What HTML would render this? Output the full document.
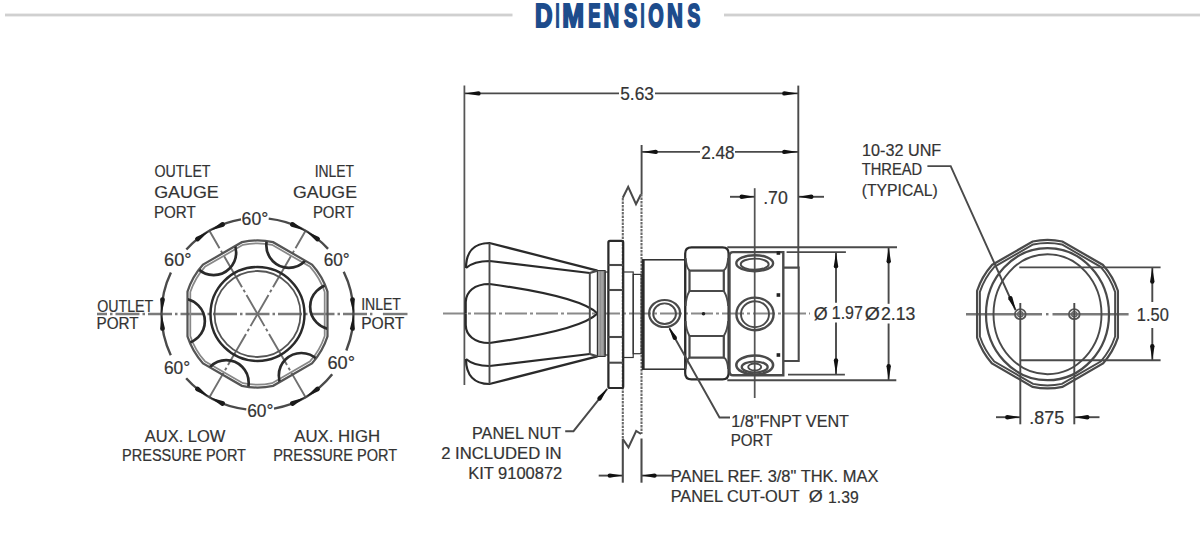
<!DOCTYPE html>
<html><head><meta charset="utf-8"><style>
html,body{margin:0;padding:0;background:#fff;}
svg{display:block;}
text{font-family:"Liberation Sans",sans-serif;}
</style></head><body>
<svg width="1200" height="548" viewBox="0 0 1200 548">
<rect width="1200" height="548" fill="#fff"/>
<g><rect x="5" y="13.6" width="507.5" height="2.8" fill="#d0d0d0"/>
<rect x="724" y="13.6" width="476" height="2.8" fill="#d0d0d0"/>
<text x="535.03" y="27.00" font-size="32.3" fill="#1d4c8c" text-anchor="start" textLength="17.50" lengthAdjust="spacingAndGlyphs" font-weight="bold" stroke="#1d4c8c" stroke-width="2.0">D</text>
<text x="555.56" y="27.00" font-size="32.3" fill="#1d4c8c" text-anchor="start" textLength="4.02" lengthAdjust="spacingAndGlyphs" font-weight="bold" stroke="#1d4c8c" stroke-width="2.0">I</text>
<text x="562.30" y="27.00" font-size="32.3" fill="#1d4c8c" text-anchor="start" textLength="21.78" lengthAdjust="spacingAndGlyphs" font-weight="bold" stroke="#1d4c8c" stroke-width="2.0">M</text>
<text x="588.30" y="27.00" font-size="32.3" fill="#1d4c8c" text-anchor="start" textLength="12.28" lengthAdjust="spacingAndGlyphs" font-weight="bold" stroke="#1d4c8c" stroke-width="2.0">E</text>
<text x="603.48" y="27.00" font-size="32.3" fill="#1d4c8c" text-anchor="start" textLength="15.73" lengthAdjust="spacingAndGlyphs" font-weight="bold" stroke="#1d4c8c" stroke-width="2.0">N</text>
<text x="624.00" y="27.00" font-size="32.3" fill="#1d4c8c" text-anchor="start" textLength="13.23" lengthAdjust="spacingAndGlyphs" font-weight="bold" stroke="#1d4c8c" stroke-width="2.0">S</text>
<text x="640.56" y="27.00" font-size="32.3" fill="#1d4c8c" text-anchor="start" textLength="4.02" lengthAdjust="spacingAndGlyphs" font-weight="bold" stroke="#1d4c8c" stroke-width="2.0">I</text>
<text x="648.21" y="27.00" font-size="32.3" fill="#1d4c8c" text-anchor="start" textLength="15.39" lengthAdjust="spacingAndGlyphs" font-weight="bold" stroke="#1d4c8c" stroke-width="2.0">O</text>
<text x="667.07" y="27.00" font-size="32.3" fill="#1d4c8c" text-anchor="start" textLength="15.91" lengthAdjust="spacingAndGlyphs" font-weight="bold" stroke="#1d4c8c" stroke-width="2.0">N</text>
<text x="687.42" y="27.00" font-size="32.3" fill="#1d4c8c" text-anchor="start" textLength="12.78" lengthAdjust="spacingAndGlyphs" font-weight="bold" stroke="#1d4c8c" stroke-width="2.0">S</text></g>
<g id="ln"><line x1="97.00" y1="314.00" x2="372.40" y2="314.00" stroke="#7a7a7a" stroke-width="2.40" stroke-dasharray="24 3 2.5 3" stroke-dashoffset="14"/>
<line x1="382.90" y1="314.00" x2="407.50" y2="314.00" stroke="#7a7a7a" stroke-width="2.40" />
<line x1="306.00" y1="230.00" x2="209.00" y2="398.00" stroke="#707070" stroke-width="1.92" stroke-dasharray="36 3 3 3" stroke-dashoffset="-75"/>
<line x1="209.00" y1="230.00" x2="306.00" y2="398.00" stroke="#707070" stroke-width="1.92" stroke-dasharray="36 3 3 3" stroke-dashoffset="-75"/>
<path d="M328.05,248.90 A96,96 0 0 0 268.70,218.66" stroke="#4a4a4a" stroke-width="2.40" fill="none" />
<path d="M240.99,219.43 A96,96 0 0 0 186.38,249.51" stroke="#4a4a4a" stroke-width="2.40" fill="none" />
<path d="M170.92,272.52 A96,96 0 0 0 170.78,355.18" stroke="#4a4a4a" stroke-width="2.40" fill="none" />
<path d="M186.16,378.24 A96,96 0 0 0 246.30,409.34" stroke="#4a4a4a" stroke-width="2.40" fill="none" />
<path d="M274.01,408.57 A96,96 0 0 0 332.21,374.28" stroke="#4a4a4a" stroke-width="2.40" fill="none" />
<path d="M346.32,350.43 A96,96 0 0 0 343.71,271.77" stroke="#4a4a4a" stroke-width="2.40" fill="none" />
<path d="M353.50,313.16 L350.09,299.73 A2.40,2.40 0 0 1 354.88,299.37 Z" fill="#1a1a1a" stroke="none"/>
<path d="M353.50,314.84 L354.88,328.63 A2.40,2.40 0 0 1 350.09,328.27 Z" fill="#1a1a1a" stroke="none"/>
<path d="M304.77,230.45 L291.44,226.68 A2.40,2.40 0 0 1 293.52,222.35 Z" fill="#1a1a1a" stroke="none"/>
<path d="M306.22,231.28 L318.86,236.98 A2.40,2.40 0 0 1 316.16,240.95 Z" fill="#1a1a1a" stroke="none"/>
<path d="M208.78,231.28 L198.84,240.95 A2.40,2.40 0 0 1 196.14,236.98 Z" fill="#1a1a1a" stroke="none"/>
<path d="M210.23,230.45 L221.48,222.35 A2.40,2.40 0 0 1 223.56,226.68 Z" fill="#1a1a1a" stroke="none"/>
<path d="M161.50,314.84 L164.91,328.27 A2.40,2.40 0 0 1 160.12,328.63 Z" fill="#1a1a1a" stroke="none"/>
<path d="M161.50,313.16 L160.12,299.37 A2.40,2.40 0 0 1 164.91,299.73 Z" fill="#1a1a1a" stroke="none"/>
<path d="M210.23,397.55 L223.56,401.32 A2.40,2.40 0 0 1 221.48,405.65 Z" fill="#1a1a1a" stroke="none"/>
<path d="M208.78,396.72 L196.14,391.02 A2.40,2.40 0 0 1 198.84,387.05 Z" fill="#1a1a1a" stroke="none"/>
<path d="M306.22,396.72 L316.16,387.05 A2.40,2.40 0 0 1 318.86,391.02 Z" fill="#1a1a1a" stroke="none"/>
<path d="M304.77,397.55 L293.52,405.65 A2.40,2.40 0 0 1 291.44,401.32 Z" fill="#1a1a1a" stroke="none"/>
<path d="M327.50,336.41 L327.50,291.59 A73.50,73.50 0 0 0 311.91,264.58 L273.09,242.17 A73.50,73.50 0 0 0 241.91,242.17 L203.09,264.58 A73.50,73.50 0 0 0 187.50,291.59 L187.50,336.41 A73.50,73.50 0 0 0 203.09,363.42 L241.91,385.83 A73.50,73.50 0 0 0 273.09,385.83 L311.91,363.42 A73.50,73.50 0 0 0 327.50,336.41 Z" stroke="#555555" stroke-width="2.24" fill="none" />
<path d="M324.70,335.97 L324.70,292.03 A70.70,70.70 0 0 0 310.13,266.79 L272.07,244.82 A70.70,70.70 0 0 0 242.93,244.82 L204.87,266.79 A70.70,70.70 0 0 0 190.30,292.03 L190.30,335.97 A70.70,70.70 0 0 0 204.87,361.21 L242.93,383.18 A70.70,70.70 0 0 0 272.07,383.18 L310.13,361.21 A70.70,70.70 0 0 0 324.70,335.97 Z" stroke="#888888" stroke-width="1.76" fill="none" />
<clipPath id="hexclip"><path d="M327.00,336.33 L327.00,291.67 A73.00,73.00 0 0 0 311.59,264.98 L272.91,242.64 A73.00,73.00 0 0 0 242.09,242.64 L203.41,264.98 A73.00,73.00 0 0 0 188.00,291.67 L188.00,336.33 A73.00,73.00 0 0 0 203.41,363.02 L242.09,385.36 A73.00,73.00 0 0 0 272.91,385.36 L311.59,363.02 A73.00,73.00 0 0 0 327.00,336.33 Z"/></clipPath>
<circle cx="332.65" cy="306.76" r="22.50" stroke="#2a2a2a" stroke-width="2.69" fill="none" clip-path="url(#hexclip)"/>
<circle cx="288.81" cy="245.30" r="22.50" stroke="#2a2a2a" stroke-width="2.69" fill="none" clip-path="url(#hexclip)"/>
<circle cx="213.66" cy="252.53" r="22.50" stroke="#2a2a2a" stroke-width="2.69" fill="none" clip-path="url(#hexclip)"/>
<circle cx="182.35" cy="321.24" r="22.50" stroke="#2a2a2a" stroke-width="2.69" fill="none" clip-path="url(#hexclip)"/>
<circle cx="226.19" cy="382.70" r="22.50" stroke="#2a2a2a" stroke-width="2.69" fill="none" clip-path="url(#hexclip)"/>
<circle cx="301.34" cy="375.47" r="22.50" stroke="#2a2a2a" stroke-width="2.69" fill="none" clip-path="url(#hexclip)"/>
<circle cx="257.50" cy="314.00" r="47.00" stroke="#2a2a2a" stroke-width="2.46" fill="none" />
<circle cx="257.50" cy="314.00" r="43.00" stroke="#555555" stroke-width="1.76" fill="none" />
<line x1="443.00" y1="313.50" x2="810.00" y2="313.50" stroke="#8a8a8a" stroke-width="2.08" stroke-dasharray="22 3 3 3"/>
<line x1="464.40" y1="85.60" x2="464.40" y2="385.00" stroke="#555555" stroke-width="1.76" />
<line x1="798.30" y1="85.60" x2="798.30" y2="268.00" stroke="#4a4a4a" stroke-width="1.92" />
<line x1="464.40" y1="93.40" x2="619.00" y2="93.40" stroke="#4a4a4a" stroke-width="1.92" />
<line x1="655.00" y1="93.40" x2="798.30" y2="93.40" stroke="#4a4a4a" stroke-width="1.92" />
<path d="M464.80,93.40 L478.45,91.20 A2.20,2.20 0 0 1 478.45,95.60 Z" fill="#111" stroke="none"/>
<path d="M798.00,93.40 L784.35,95.60 A2.20,2.20 0 0 1 784.35,91.20 Z" fill="#111" stroke="none"/>
<line x1="641.60" y1="145.00" x2="641.60" y2="194.00" stroke="#4a4a4a" stroke-width="1.92" />
<line x1="641.60" y1="151.90" x2="700.00" y2="151.90" stroke="#4a4a4a" stroke-width="1.92" />
<line x1="735.00" y1="151.90" x2="798.30" y2="151.90" stroke="#4a4a4a" stroke-width="1.92" />
<path d="M642.00,151.90 L655.65,149.70 A2.20,2.20 0 0 1 655.65,154.10 Z" fill="#111" stroke="none"/>
<path d="M798.00,151.90 L784.35,154.10 A2.20,2.20 0 0 1 784.35,149.70 Z" fill="#111" stroke="none"/>
<line x1="754.70" y1="188.20" x2="754.70" y2="398.00" stroke="#555555" stroke-width="1.76" />
<line x1="730.00" y1="196.80" x2="754.70" y2="196.80" stroke="#4a4a4a" stroke-width="1.92" />
<path d="M754.30,196.80 L741.70,199.00 A2.20,2.20 0 0 1 741.70,194.60 Z" fill="#111" stroke="none"/>
<line x1="798.30" y1="196.80" x2="824.00" y2="196.80" stroke="#4a4a4a" stroke-width="1.92" />
<path d="M798.70,196.80 L811.30,194.60 A2.20,2.20 0 0 1 811.30,199.00 Z" fill="#111" stroke="none"/>
<path d="M622.8,197.8 L628.2,186.9 L636,204.2 L641,194.2" stroke="#4a4a4a" stroke-width="2.08" fill="none" />
<line x1="622.80" y1="198.00" x2="622.80" y2="439.00" stroke="#6a6a6a" stroke-width="2.08" stroke-dasharray="2.4 1.1"/>
<line x1="641.50" y1="194.00" x2="641.50" y2="434.00" stroke="#6a6a6a" stroke-width="2.08" stroke-dasharray="2.4 1.1"/>
<path d="M622.8,439 L628.5,447.5 L636.2,430.9 L641,434" stroke="#4a4a4a" stroke-width="2.08" fill="none" />
<line x1="622.80" y1="439.00" x2="622.80" y2="482.70" stroke="#4a4a4a" stroke-width="2.08" />
<line x1="641.50" y1="438.50" x2="641.50" y2="482.70" stroke="#4a4a4a" stroke-width="2.08" />
<line x1="598.70" y1="475.60" x2="622.80" y2="475.60" stroke="#4a4a4a" stroke-width="1.92" />
<path d="M622.40,475.60 L609.80,477.80 A2.20,2.20 0 0 1 609.80,473.40 Z" fill="#111" stroke="none"/>
<line x1="641.50" y1="475.60" x2="672.00" y2="475.60" stroke="#4a4a4a" stroke-width="1.92" />
<path d="M641.90,475.60 L654.50,473.40 A2.20,2.20 0 0 1 654.50,477.80 Z" fill="#111" stroke="none"/>
<path d="M466,268 C466,252 474,243 489.5,243 L597.4,270.6" stroke="#2a2a2a" stroke-width="2.24" fill="none" />
<path d="M466.00,359.00 C466.00,375.00 474.00,384.00 489.50,384.00 L597.40,356.40 " stroke="#2a2a2a" stroke-width="2.24" fill="none" />
<path d="M466,268 Q474,261 489.5,261 L589.8,273" stroke="#2a2a2a" stroke-width="2.24" fill="none" />
<path d="M466.00,359.00 Q474.00,366.00 489.50,366.00 L589.80,354.00 " stroke="#2a2a2a" stroke-width="2.24" fill="none" />
<path d="M465.7,313.5 L465.7,302 C466,292 474,284 489.5,284 C540,291 585,301 597.4,313.5" stroke="#2a2a2a" stroke-width="2.24" fill="none" />
<path d="M465.70,313.50 L465.70,325.00 C466.00,335.00 474.00,343.00 489.50,343.00 C540.00,336.00 585.00,326.00 597.40,313.50 " stroke="#2a2a2a" stroke-width="2.24" fill="none" />
<line x1="489.50" y1="243.00" x2="489.50" y2="384.00" stroke="#4a4a4a" stroke-width="1.92" />
<line x1="589.80" y1="273.00" x2="589.80" y2="354.00" stroke="#4a4a4a" stroke-width="1.92" />
<rect x="597.4" y="270.6" width="7.7" height="85.8" fill="#b4b4b4" stroke="#333" stroke-width="1.2"/>
<line x1="599.00" y1="271" x2="599.00" y2="356" stroke="#777" stroke-width="0.6"/>
<line x1="600.50" y1="271" x2="600.50" y2="356" stroke="#777" stroke-width="0.6"/>
<line x1="602.00" y1="271" x2="602.00" y2="356" stroke="#777" stroke-width="0.6"/>
<line x1="603.50" y1="271" x2="603.50" y2="356" stroke="#777" stroke-width="0.6"/>
<line x1="605.00" y1="271" x2="605.00" y2="356" stroke="#777" stroke-width="0.6"/>
<rect x="605.1" y="272" width="3.3" height="83" fill="none" stroke="#333" stroke-width="1.2"/>
<path d="M589.8,273 L597.4,270.6" stroke="#4a4a4a" stroke-width="2.24" fill="none" />
<path d="M589.8,354 L597.4,356.4" stroke="#4a4a4a" stroke-width="2.24" fill="none" />
<path d="M610,240.9 L621.6,240.9 Q623.2,240.9 623.2,242.5 L623.2,386.4 Q623.2,388 621.6,388 L610,388 Q608.4,388 608.4,386.4 L608.4,242.5 Q608.4,240.9 610,240.9 Z" stroke="#2a2a2a" stroke-width="2.24" fill="none" />
<line x1="608.40" y1="265.00" x2="623.20" y2="265.00" stroke="#4a4a4a" stroke-width="2.08" />
<line x1="608.40" y1="290.00" x2="623.20" y2="290.00" stroke="#4a4a4a" stroke-width="2.08" />
<line x1="608.40" y1="337.00" x2="623.20" y2="337.00" stroke="#4a4a4a" stroke-width="2.08" />
<line x1="608.40" y1="362.70" x2="623.20" y2="362.70" stroke="#4a4a4a" stroke-width="2.08" />
<rect x="623.2" y="272" width="10" height="85.5" fill="none" stroke="#333" stroke-width="1.2"/>
<rect x="633.2" y="274.4" width="8" height="79.3" fill="none" stroke="#333" stroke-width="1.2"/>
<rect x="642.5" y="259.8" width="42.9" height="109.4" fill="none" stroke="#2a2a2a" stroke-width="1.5"/>
<line x1="643.30" y1="259.80" x2="643.30" y2="369.20" stroke="#2a2a2a" stroke-width="2.69" />
<ellipse cx="664.60" cy="313.50" rx="15.50" ry="13.50" stroke="#4a4a4a" stroke-width="2.24" fill="none" />
<ellipse cx="664.60" cy="313.70" rx="11.40" ry="10.30" stroke="#4a4a4a" stroke-width="1.92" fill="none" />
<path d="M691.5,247.3 L722.5,247.3 Q728.6,247.3 728.6,253.5 L728.6,373.2 Q728.6,379.4 722.5,379.4 L691.5,379.4 Q685.2,379.4 685.2,373.2 L685.2,253.5 Q685.2,247.3 691.5,247.3 Z" stroke="#2a2a2a" stroke-width="2.24" fill="none" />
<path d="M689.5,270.6 L723.8,270.6 L723.8,291.0 L689.5,291.0 Z" stroke="#4a4a4a" stroke-width="2.24" fill="none" />
<path d="M689.5,336.0 L723.8,336.0 L723.8,357.6 L689.5,357.6 Z" stroke="#4a4a4a" stroke-width="2.24" fill="none" />
<path d="M685.6,258 Q686.5,268 689.5,270.6" stroke="#4a4a4a" stroke-width="1.92" fill="none" />
<path d="M728.2,258 Q727.3,268 723.8,270.6" stroke="#4a4a4a" stroke-width="1.92" fill="none" />
<path d="M685.6,369 Q686.5,359 689.5,357.6" stroke="#4a4a4a" stroke-width="1.92" fill="none" />
<path d="M728.2,369 Q727.3,359 723.8,357.6" stroke="#4a4a4a" stroke-width="1.92" fill="none" />
<path d="M689.5,291 Q686,297 685.6,306" stroke="#4a4a4a" stroke-width="1.92" fill="none" />
<path d="M723.8,291 Q727.5,297 728.2,306" stroke="#4a4a4a" stroke-width="1.92" fill="none" />
<path d="M689.5,336 Q686,330 685.6,321" stroke="#4a4a4a" stroke-width="1.92" fill="none" />
<path d="M723.8,336 Q727.5,330 728.2,321" stroke="#4a4a4a" stroke-width="1.92" fill="none" />
<circle cx="703.50" cy="313.80" r="1.80" stroke="#2a2a2a" stroke-width="0.00" fill="#222" />
<line x1="727.30" y1="247.20" x2="897.00" y2="247.20" stroke="#4a4a4a" stroke-width="2.08" />
<line x1="727.30" y1="380.30" x2="896.30" y2="380.30" stroke="#4a4a4a" stroke-width="2.08" />
<path d="M733,252.1 L783.3,252.1 L783.3,375.3 L733,375.3 Q729.5,375.3 729.5,371 L729.5,256 Q729.5,252.1 733,252.1 Z" stroke="#4a4a4a" stroke-width="2.40" fill="none" />
<line x1="786.60" y1="252.10" x2="845.90" y2="252.10" stroke="#4a4a4a" stroke-width="1.92" />
<line x1="788.00" y1="374.60" x2="844.90" y2="374.60" stroke="#4a4a4a" stroke-width="1.92" />
<path d="M783.3,267.6 L798.7,267.6 L798.7,361 L783.3,361" stroke="#4a4a4a" stroke-width="2.08" fill="none" />
<ellipse cx="754.70" cy="263.20" rx="18.40" ry="8.00" stroke="#4a4a4a" stroke-width="2.40" fill="none" />
<ellipse cx="754.70" cy="264.20" rx="14.00" ry="5.60" stroke="#4a4a4a" stroke-width="1.92" fill="none" />
<ellipse cx="754.70" cy="365.00" rx="18.40" ry="9.50" stroke="#4a4a4a" stroke-width="2.56" fill="none" />
<ellipse cx="754.70" cy="367.00" rx="13.00" ry="5.50" stroke="#4a4a4a" stroke-width="2.24" fill="none" />
<ellipse cx="754.70" cy="367.00" rx="6.50" ry="3.50" stroke="#4a4a4a" stroke-width="1.92" fill="none" />
<ellipse cx="755.00" cy="313.90" rx="18.60" ry="16.30" stroke="#4a4a4a" stroke-width="2.40" fill="none" />
<ellipse cx="755.00" cy="314.20" rx="14.00" ry="13.00" stroke="#4a4a4a" stroke-width="1.92" fill="none" />
<rect x="776.6" y="251.2" width="3.6" height="3.6" fill="#222"/>
<rect x="776.6" y="293.2" width="3.6" height="3.6" fill="#222"/>
<rect x="776.6" y="353.2" width="3.6" height="3.6" fill="#222"/>
<line x1="836.00" y1="252.10" x2="836.00" y2="302.70" stroke="#4a4a4a" stroke-width="1.92" />
<line x1="836.00" y1="322.40" x2="836.00" y2="374.60" stroke="#4a4a4a" stroke-width="1.92" />
<path d="M836.00,252.50 L838.20,266.15 A2.20,2.20 0 0 1 833.80,266.15 Z" fill="#111" stroke="none"/>
<path d="M836.00,374.20 L833.80,360.55 A2.20,2.20 0 0 1 838.20,360.55 Z" fill="#111" stroke="none"/>
<line x1="888.60" y1="247.20" x2="888.60" y2="303.80" stroke="#4a4a4a" stroke-width="1.92" />
<line x1="888.60" y1="323.50" x2="888.60" y2="380.30" stroke="#4a4a4a" stroke-width="1.92" />
<path d="M888.70,247.60 L890.90,261.25 A2.20,2.20 0 0 1 886.50,261.25 Z" fill="#111" stroke="none"/>
<path d="M888.70,379.90 L886.50,366.25 A2.20,2.20 0 0 1 890.90,366.25 Z" fill="#111" stroke="none"/>
<path d="M565.2,431.2 L573.5,431.2 L607.2,388.8" stroke="#4a4a4a" stroke-width="1.92" fill="none" />
<path d="M607.40,388.60 L601.28,399.83 A2.20,2.20 0 0 1 597.83,397.09 Z" fill="#111" stroke="none"/>
<path d="M669.5,328.5 L719.5,417.5 L730,417.5" stroke="#4a4a4a" stroke-width="1.92" fill="none" />
<path d="M668.60,326.80 L676.69,336.71 A2.20,2.20 0 0 1 672.85,338.86 Z" fill="#111" stroke="none"/>
<line x1="966.00" y1="314.20" x2="1042.00" y2="314.20" stroke="#7a7a7a" stroke-width="2.40" />
<line x1="1046.00" y1="314.20" x2="1048.50" y2="314.20" stroke="#7a7a7a" stroke-width="2.40" />
<line x1="1052.50" y1="314.20" x2="1128.60" y2="314.20" stroke="#7a7a7a" stroke-width="2.40" />
<path d="M1117.90,337.64 L1117.90,290.76 A74.20,74.20 0 0 0 1103.00,264.95 L1062.40,241.51 A74.20,74.20 0 0 0 1032.60,241.51 L992.00,264.95 A74.20,74.20 0 0 0 977.10,290.76 L977.10,337.64 A74.20,74.20 0 0 0 992.00,363.45 L1032.60,386.89 A74.20,74.20 0 0 0 1062.40,386.89 L1103.00,363.45 A74.20,74.20 0 0 0 1117.90,337.64 Z" stroke="#4a4a4a" stroke-width="2.24" fill="none" />
<path d="M1115.10,336.55 L1115.10,291.85 A71.20,71.20 0 0 0 1100.66,266.83 L1061.94,244.48 A71.20,71.20 0 0 0 1033.06,244.48 L994.34,266.83 A71.20,71.20 0 0 0 979.90,291.85 L979.90,336.55 A71.20,71.20 0 0 0 994.34,361.57 L1033.06,383.92 A71.20,71.20 0 0 0 1061.94,383.92 L1100.66,361.57 A71.20,71.20 0 0 0 1115.10,336.55 Z" stroke="#4a4a4a" stroke-width="1.92" fill="none" />
<ellipse cx="1047.50" cy="314.20" rx="61.50" ry="66.00" stroke="#4a4a4a" stroke-width="2.24" fill="none" />
<ellipse cx="1047.50" cy="314.20" rx="54.00" ry="60.00" stroke="#4a4a4a" stroke-width="1.92" fill="none" />
<ellipse cx="1020.30" cy="314.20" rx="5.40" ry="5.00" stroke="#555555" stroke-width="1.76" fill="none" />
<circle cx="1020.30" cy="314.20" r="2.60" stroke="#666666" stroke-width="1.44" fill="none" />
<ellipse cx="1074.30" cy="314.20" rx="5.40" ry="5.00" stroke="#555555" stroke-width="1.76" fill="none" />
<circle cx="1074.30" cy="314.20" r="2.60" stroke="#666666" stroke-width="1.44" fill="none" />
<line x1="1020.30" y1="303.00" x2="1020.30" y2="424.30" stroke="#4a4a4a" stroke-width="1.92" />
<line x1="1074.30" y1="303.00" x2="1074.30" y2="424.30" stroke="#4a4a4a" stroke-width="1.92" />
<line x1="996.00" y1="417.20" x2="1020.30" y2="417.20" stroke="#4a4a4a" stroke-width="1.92" />
<path d="M1019.90,417.20 L1007.30,419.40 A2.20,2.20 0 0 1 1007.30,415.00 Z" fill="#111" stroke="none"/>
<line x1="1074.30" y1="417.20" x2="1099.50" y2="417.20" stroke="#4a4a4a" stroke-width="1.92" />
<path d="M1074.70,417.20 L1087.30,415.00 A2.20,2.20 0 0 1 1087.30,419.40 Z" fill="#111" stroke="none"/>
<line x1="1019.30" y1="267.40" x2="1160.60" y2="267.40" stroke="#4a4a4a" stroke-width="1.92" />
<line x1="1020.60" y1="360.30" x2="1160.60" y2="360.30" stroke="#4a4a4a" stroke-width="1.92" />
<line x1="1152.30" y1="267.40" x2="1152.30" y2="302.00" stroke="#4a4a4a" stroke-width="1.92" />
<line x1="1152.30" y1="328.00" x2="1152.30" y2="360.30" stroke="#4a4a4a" stroke-width="1.92" />
<path d="M1152.30,267.80 L1154.50,281.45 A2.20,2.20 0 0 1 1150.10,281.45 Z" fill="#111" stroke="none"/>
<path d="M1152.30,359.90 L1150.10,346.25 A2.20,2.20 0 0 1 1154.50,346.25 Z" fill="#111" stroke="none"/>
<path d="M927.4,166.1 L950.7,166.1 L1015.5,310" stroke="#4a4a4a" stroke-width="1.92" fill="none" />
<path d="M1016.00,310.70 L1008.38,299.17 A2.20,2.20 0 0 1 1012.39,297.35 Z" fill="#111" stroke="none"/></g>
<g><text x="154.46" y="177.20" font-size="15.8" fill="#333" text-anchor="start" textLength="56.12" lengthAdjust="spacingAndGlyphs" stroke="#333" stroke-width="0.2">OUTLET</text>
<text x="154.21" y="197.80" font-size="15.8" fill="#333" text-anchor="start" textLength="64.54" lengthAdjust="spacingAndGlyphs" stroke="#333" stroke-width="0.2">GAUGE</text>
<text x="153.89" y="217.60" font-size="15.8" fill="#333" text-anchor="start" textLength="41.81" lengthAdjust="spacingAndGlyphs" stroke="#333" stroke-width="0.2">PORT</text>
<text x="314.65" y="177.20" font-size="15.8" fill="#333" text-anchor="start" textLength="39.42" lengthAdjust="spacingAndGlyphs" stroke="#333" stroke-width="0.2">INLET</text>
<text x="293.02" y="197.80" font-size="15.8" fill="#333" text-anchor="start" textLength="63.93" lengthAdjust="spacingAndGlyphs" stroke="#333" stroke-width="0.2">GAUGE</text>
<text x="312.91" y="217.60" font-size="15.8" fill="#333" text-anchor="start" textLength="41.19" lengthAdjust="spacingAndGlyphs" stroke="#333" stroke-width="0.2">PORT</text>
<text x="97.16" y="312.00" font-size="15.8" fill="#333" text-anchor="start" textLength="56.12" lengthAdjust="spacingAndGlyphs" stroke="#333" stroke-width="0.2">OUTLET</text>
<text x="96.58" y="328.60" font-size="15.8" fill="#333" text-anchor="start" textLength="42.12" lengthAdjust="spacingAndGlyphs" stroke="#333" stroke-width="0.2">PORT</text>
<text x="361.14" y="309.50" font-size="15.8" fill="#333" text-anchor="start" textLength="39.83" lengthAdjust="spacingAndGlyphs" stroke="#333" stroke-width="0.2">INLET</text>
<text x="361.15" y="328.60" font-size="15.8" fill="#333" text-anchor="start" textLength="43.06" lengthAdjust="spacingAndGlyphs" stroke="#333" stroke-width="0.2">PORT</text>
<text x="241.62" y="224.70" font-size="17.5" fill="#333" text-anchor="start" textLength="26.68" lengthAdjust="spacingAndGlyphs" stroke="#333" stroke-width="0.2">60°</text>
<text x="323.64" y="266.00" font-size="17.5" fill="#333" text-anchor="start" textLength="26.03" lengthAdjust="spacingAndGlyphs" stroke="#333" stroke-width="0.2">60°</text>
<text x="327.49" y="369.40" font-size="17.5" fill="#333" text-anchor="start" textLength="27.54" lengthAdjust="spacingAndGlyphs" stroke="#333" stroke-width="0.2">60°</text>
<text x="247.23" y="416.80" font-size="17.5" fill="#333" text-anchor="start" textLength="26.25" lengthAdjust="spacingAndGlyphs" stroke="#333" stroke-width="0.2">60°</text>
<text x="163.93" y="373.50" font-size="17.5" fill="#333" text-anchor="start" textLength="26.25" lengthAdjust="spacingAndGlyphs" stroke="#333" stroke-width="0.2">60°</text>
<text x="164.09" y="266.30" font-size="17.5" fill="#333" text-anchor="start" textLength="27.54" lengthAdjust="spacingAndGlyphs" stroke="#333" stroke-width="0.2">60°</text>
<text x="144.75" y="442.15" font-size="15.8" fill="#333" text-anchor="start" textLength="80.58" lengthAdjust="spacingAndGlyphs" stroke="#333" stroke-width="0.2">AUX. LOW</text>
<text x="122.04" y="460.80" font-size="15.8" fill="#333" text-anchor="start" textLength="123.94" lengthAdjust="spacingAndGlyphs" stroke="#333" stroke-width="0.2">PRESSURE PORT</text>
<text x="294.20" y="442.15" font-size="15.8" fill="#333" text-anchor="start" textLength="85.93" lengthAdjust="spacingAndGlyphs" stroke="#333" stroke-width="0.2">AUX. HIGH</text>
<text x="273.14" y="461.40" font-size="15.8" fill="#333" text-anchor="start" textLength="123.94" lengthAdjust="spacingAndGlyphs" stroke="#333" stroke-width="0.2">PRESSURE PORT</text>
<text x="620.21" y="99.90" font-size="17.8" fill="#333" text-anchor="start" textLength="33.71" lengthAdjust="spacingAndGlyphs" stroke="#333" stroke-width="0.2">5.63</text>
<text x="701.14" y="159.40" font-size="17.8" fill="#333" text-anchor="start" textLength="33.37" lengthAdjust="spacingAndGlyphs" stroke="#333" stroke-width="0.2">2.48</text>
<text x="763.21" y="203.50" font-size="17.8" fill="#333" text-anchor="start" textLength="24.62" lengthAdjust="spacingAndGlyphs" stroke="#333" stroke-width="0.2">.70</text>
<text x="813.77" y="319.70" font-size="17.5" fill="#333" text-anchor="start" textLength="13.90" lengthAdjust="spacingAndGlyphs" stroke="#333" stroke-width="0.2">Ø</text>
<text x="831.80" y="319.00" font-size="17.5" fill="#333" text-anchor="start" textLength="31.01" lengthAdjust="spacingAndGlyphs" stroke="#333" stroke-width="0.2">1.97</text>
<text x="864.82" y="319.70" font-size="17.5" fill="#333" text-anchor="start" textLength="15.11" lengthAdjust="spacingAndGlyphs" stroke="#333" stroke-width="0.2">Ø</text>
<text x="881.02" y="319.70" font-size="17.5" fill="#333" text-anchor="start" textLength="34.41" lengthAdjust="spacingAndGlyphs" stroke="#333" stroke-width="0.2">2.13</text>
<text x="472.00" y="439.20" font-size="15.8" fill="#333" text-anchor="start" textLength="89.14" lengthAdjust="spacingAndGlyphs" stroke="#333" stroke-width="0.2">PANEL NUT</text>
<text x="441.17" y="459.00" font-size="15.8" fill="#333" text-anchor="start" textLength="120.43" lengthAdjust="spacingAndGlyphs" stroke="#333" stroke-width="0.2">2 INCLUDED IN</text>
<text x="468.18" y="479.40" font-size="15.8" fill="#333" text-anchor="start" textLength="94.12" lengthAdjust="spacingAndGlyphs" stroke="#333" stroke-width="0.2">KIT 9100872</text>
<text x="731.29" y="426.60" font-size="15.8" fill="#333" text-anchor="start" textLength="117.68" lengthAdjust="spacingAndGlyphs" stroke="#333" stroke-width="0.2">1/8"FNPT VENT</text>
<text x="730.69" y="445.80" font-size="15.8" fill="#333" text-anchor="start" textLength="41.81" lengthAdjust="spacingAndGlyphs" stroke="#333" stroke-width="0.2">PORT</text>
<text x="670.68" y="481.90" font-size="15.8" fill="#333" text-anchor="start" textLength="207.70" lengthAdjust="spacingAndGlyphs" stroke="#333" stroke-width="0.2">PANEL REF. 3/8" THK. MAX</text>
<text x="670.69" y="502.20" font-size="15.8" fill="#333" text-anchor="start" textLength="128.93" lengthAdjust="spacingAndGlyphs" stroke="#333" stroke-width="0.2">PANEL CUT-OUT</text>
<text x="808.67" y="502.40" font-size="16.5" fill="#333" text-anchor="start" textLength="14.01" lengthAdjust="spacingAndGlyphs" stroke="#333" stroke-width="0.2">Ø</text>
<text x="828.12" y="502.70" font-size="17.0" fill="#333" text-anchor="start" textLength="30.61" lengthAdjust="spacingAndGlyphs" stroke="#333" stroke-width="0.2">1.39</text>
<text x="1029.29" y="423.80" font-size="17.8" fill="#333" text-anchor="start" textLength="34.85" lengthAdjust="spacingAndGlyphs" stroke="#333" stroke-width="0.2">.875</text>
<text x="1136.87" y="320.50" font-size="17.8" fill="#333" text-anchor="start" textLength="31.93" lengthAdjust="spacingAndGlyphs" stroke="#333" stroke-width="0.2">1.50</text>
<text x="862.09" y="155.50" font-size="15.8" fill="#333" text-anchor="start" textLength="79.17" lengthAdjust="spacingAndGlyphs" stroke="#333" stroke-width="0.2">10-32 UNF</text>
<text x="861.71" y="174.60" font-size="15.8" fill="#333" text-anchor="start" textLength="60.38" lengthAdjust="spacingAndGlyphs" stroke="#333" stroke-width="0.2">THREAD</text>
<text x="861.76" y="195.70" font-size="15.8" fill="#333" text-anchor="start" textLength="75.95" lengthAdjust="spacingAndGlyphs" stroke="#333" stroke-width="0.2">(TYPICAL)</text></g>
</svg></body></html>
